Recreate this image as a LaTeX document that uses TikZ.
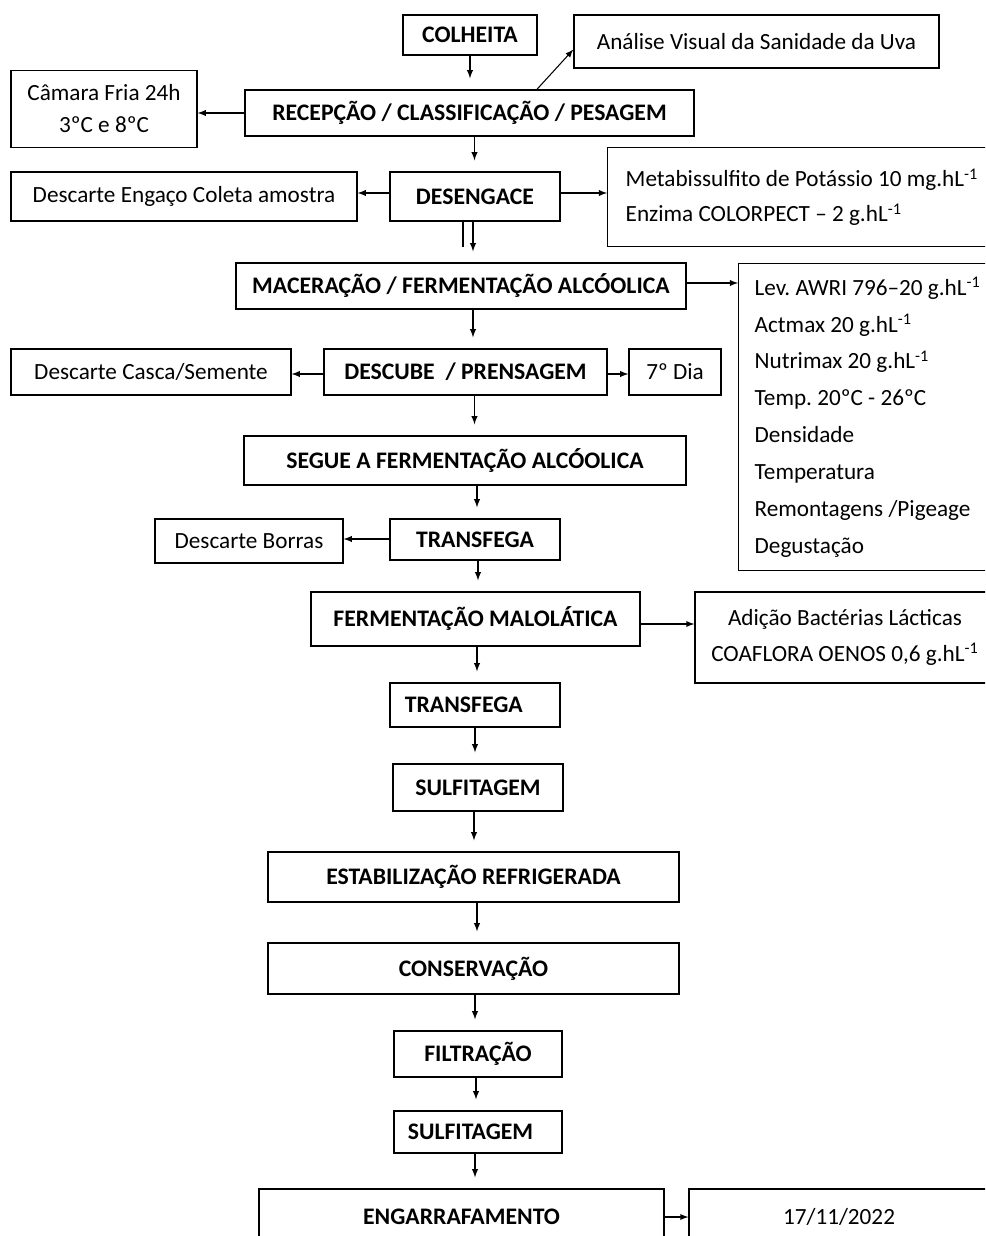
\documentclass[tikz,border=0pt]{standalone}
\usepackage{fontspec}
\setmainfont{Carlito}
\usepackage{tikz}

\newcommand{\hl}{g.hL\textsuperscript{-1}}

\begin{document}
\begin{tikzpicture}[x=0.02cm,y=-0.02cm,
    passo/.style={draw,thick,inner sep=0pt,font=\fontsize{13.5}{16}\selectfont\bfseries},
    nota/.style={draw,thick,inner sep=0pt,align=center,font=\fontsize{13.2}{0.76cm}\selectfont},
    lista/.style={draw,thick,anchor=north west,align=flush left,inner ysep=0pt},
    seta/.style={-latex,semithick},
    desce/.style={seta,shorten >=0.22cm}]
  \useasboundingbox (0,0) rectangle (985,1236);
  \clip (0,0) rectangle (985,1236);

  % etapas principais
  \node[passo,minimum width=2.68cm,minimum height=0.8cm] (colheita) at (470,35) {COLHEITA};
  \node[passo,minimum width=8.98cm,minimum height=0.92cm] (recepcao) at (469.5,113) {RECEPÇÃO / CLASSIFICAÇÃO / PESAGEM};
  \node[passo,minimum width=3.4cm,minimum height=0.98cm] (desengace) at (475,196.5) {DESENGACE};
  \node[passo,minimum width=9cm,minimum height=0.92cm] (maceracao) at (461,286) {MACERAÇÃO / FERMENTAÇÃO ALCÓOLICA};
  \node[passo,minimum width=5.66cm,minimum height=0.92cm] (descube) at (465.5,372) {DESCUBE \ / PRENSAGEM};
  \node[passo,minimum width=8.84cm,minimum height=0.98cm] (segue) at (465,460.5) {SEGUE A FERMENTAÇÃO ALCÓOLICA};
  \node[passo,minimum width=3.4cm,minimum height=0.82cm] (transfega) at (475,539.5) {TRANSFEGA};
  \node[passo,minimum width=6.58cm,minimum height=1.08cm] (malolatica) at (475.5,619) {FERMENTAÇÃO MALOLÁTICA};
  \node[passo,minimum width=3.4cm,minimum height=0.88cm] (transfegab) at (475,705) {TRANSFEGA\hspace*{0.45cm}};
  \node[passo,minimum width=3.4cm,minimum height=0.94cm] (sulfitagem) at (478,787.5) {SULFITAGEM};
  \node[passo,minimum width=8.22cm,minimum height=1cm] (estabilizacao) at (473.5,877) {ESTABILIZAÇÃO REFRIGERADA};
  \node[passo,minimum width=8.22cm,minimum height=1.02cm] (conservacao) at (473.5,968.5) {CONSERVAÇÃO};
  \node[passo,minimum width=3.36cm,minimum height=0.92cm] (filtracao) at (478,1054) {FILTRAÇÃO};
  \node[passo,minimum width=3.36cm,minimum height=0.84cm] (sulfitagemb) at (478,1132) {SULFITAGEM\hspace*{0.3cm}};
  \node[passo,minimum width=8.1cm,minimum height=1.12cm] (engarrafamento) at (461.5,1217) {ENGARRAFAMENTO};

  % notas laterais
  \node[nota,minimum width=7.3cm,minimum height=1.06cm] (analise) at (756.5,41.5) {Análise Visual da Sanidade da Uva};
  \node[nota,minimum width=3.72cm,minimum height=1.54cm,font=\fontsize{13.2}{0.64cm}\selectfont] (camara) at (104,109) {Câmara Fria 24h\\3ºC e 8ºC};
  \node[nota,minimum width=6.92cm,minimum height=0.98cm] (engaco) at (184,196.5) {Descarte Engaço Coleta amostra};
  \node[lista,minimum width=8cm,minimum height=1.98cm,text width=7.3cm,inner xsep=0.36cm,
        font=\fontsize{13.2}{0.7cm}\selectfont] (metabissulfito) at (607,147)
        {Metabissulfito de Potássio 10 mg.hL\textsuperscript{-1}\\Enzima COLORPECT – 2 \hl};
  \node[lista,minimum width=6cm,minimum height=6.14cm,text width=5.36cm,inner xsep=0.32cm,
        font=\fontsize{13.2}{0.737cm}\selectfont] (levedura) at (738,263)
        {Lev.\ AWRI 796–20 \hl\\Actmax 20 \hl\\Nutrimax 20 \hl\\Temp.\ 20ºC - 26ºC\\Densidade\\Temperatura\\Remontagens /Pigeage\\Degustação};
  \node[nota,minimum width=5.6cm,minimum height=0.92cm] (casca) at (151,372) {Descarte Casca/Semente};
  \node[nota,minimum width=1.84cm,minimum height=0.92cm] (dia) at (675,372) {7º Dia};
  \node[nota,minimum width=3.76cm,minimum height=0.88cm] (borras) at (249,541) {Descarte Borras};
  \node[nota,minimum width=6cm,minimum height=1.82cm,font=\fontsize{13.2}{0.72cm}\selectfont] (bacterias) at (845,637.5)
        {Adição Bactérias Lácticas\\COAFLORA OENOS 0,6 \hl};
  \node[nota,minimum width=6cm,minimum height=1.12cm] (data) at (839,1217) {17/11/2022};

  % setas
  \draw[desce] (colheita.south) -- (colheita.south |- recepcao.north);
  \draw[seta] ([xshift=1.35cm]recepcao.north) -- ([yshift=-0.16cm]analise.west);
  \draw[seta] (recepcao.west) -- (recepcao.west -| camara.east);
  \draw[desce] ([xshift=0.1cm]recepcao.south) -- ([xshift=0.1cm]recepcao.south |- desengace.north);
  \draw[seta] ([yshift=0.07cm]desengace.east) -- ([yshift=0.07cm]desengace.east -| metabissulfito.west);
  \draw[seta] ([yshift=0.07cm]desengace.west) -- ([yshift=0.07cm]desengace.west -| engaco.east);
  \draw[semithick] ([xshift=-0.24cm]desengace.south) -- ++(0,25);
  \draw[desce] ([xshift=-0.04cm]desengace.south) -- ([xshift=-0.04cm]desengace.south |- maceracao.north);
  \draw[seta] ([yshift=0.06cm]maceracao.east) -- ([yshift=0.06cm]maceracao.east -| levedura.west);
  \draw[desce] ([xshift=0.24cm]maceracao.south) -- ([xshift=0.24cm]maceracao.south |- descube.north);
  \draw[seta] ([yshift=-0.04cm]descube.west) -- ([yshift=-0.04cm]descube.west -| casca.east);
  \draw[seta] ([yshift=-0.04cm]descube.east) -- ([yshift=-0.04cm]descube.east -| dia.west);
  \draw[desce] ([xshift=0.18cm]descube.south) -- ([xshift=0.18cm]descube.south |- segue.north);
  \draw[desce] ([xshift=0.24cm]segue.south) -- ([xshift=0.24cm]segue.south |- transfega.north);
  \draw[seta] ([yshift=0.01cm]transfega.west) -- ([yshift=0.01cm]transfega.west -| borras.east);
  \draw[desce] ([xshift=0.06cm]transfega.south) -- ([xshift=0.06cm]transfega.south |- malolatica.north);
  \draw[seta] ([yshift=-0.1cm]malolatica.east) -- ([yshift=-0.1cm]malolatica.east -| bacterias.west);
  \draw[desce] ([xshift=0.03cm]malolatica.south) -- ([xshift=0.03cm]malolatica.south |- transfegab.north);
  \draw[desce] (transfegab.south) -- (transfegab.south |- sulfitagem.north);
  \draw[desce] ([xshift=-0.08cm]sulfitagem.south) -- ([xshift=-0.08cm]sulfitagem.south |- estabilizacao.north);
  \draw[desce] ([xshift=0.07cm]estabilizacao.south) -- ([xshift=0.07cm]estabilizacao.south |- conservacao.north);
  \draw[desce] ([xshift=0.03cm]conservacao.south) -- ([xshift=0.03cm]conservacao.south |- filtracao.north);
  \draw[desce] ([xshift=-0.04cm]filtracao.south) -- ([xshift=-0.04cm]filtracao.south |- sulfitagemb.north);
  \draw[desce] ([xshift=-0.06cm]sulfitagemb.south) -- ([xshift=-0.06cm]sulfitagemb.south |- engarrafamento.north);
  \draw[seta] (engarrafamento.east) -- (engarrafamento.east -| data.west);
\end{tikzpicture}
\end{document}
